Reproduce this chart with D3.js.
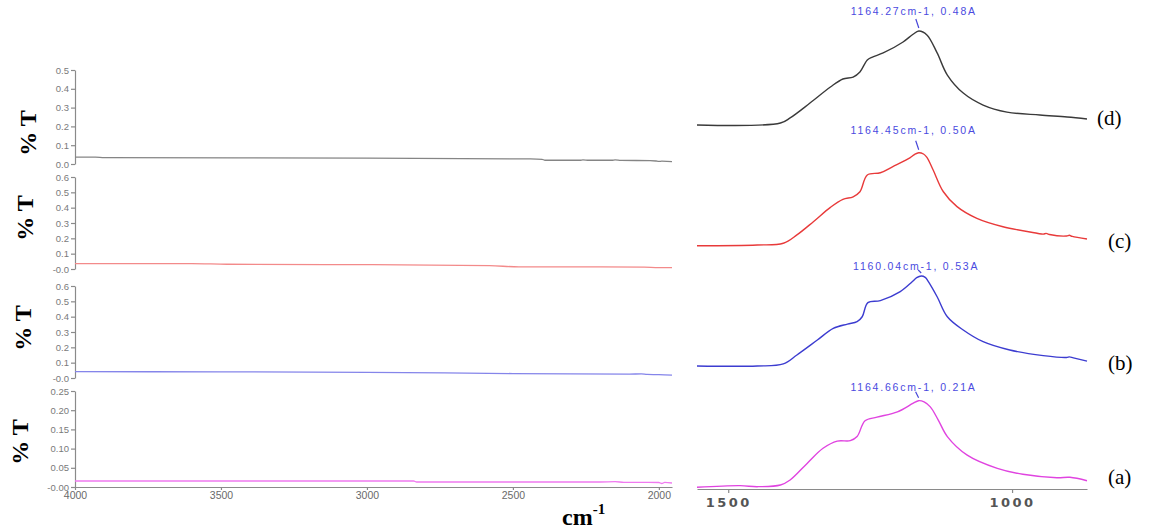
<!DOCTYPE html>
<html>
<head>
<meta charset="utf-8">
<script src="https://cdn.jsdelivr.net/npm/d3@7"></script>
<style>
  html, body { margin: 0; padding: 0; background: #fff; }
  svg { display: block; }
</style>
</head>
<body>
<svg id="chart" width="1157" height="532"></svg>
<script>
// ---- data -------------------------------------------------------------
const sampleIds = ["d", "c", "b", "a"];

// full-range survey spectra (wavenumber, %T)
const surveyD = [[4000,0.037],[3930,0.037],[3900,0.034],[3000,0.031],[2440,0.027],[2400,0.025],[2390,0.020],[2270,0.020],[2260,0.022],[2240,0.020],[2160,0.020],[2150,0.022],[2130,0.019],[2030,0.018],[2010,0.016],[2000,0.014],[1990,0.015],[1955,0.013]];
const surveyC = [[4000,0.035],[3600,0.035],[3480,0.031],[2980,0.028],[2580,0.022],[2480,0.014],[2200,0.014],[2050,0.012],[2000,0.009],[1955,0.009]];
const surveyB = [[4000,0.041],[3500,0.040],[3000,0.037],[2500,0.029],[2100,0.025],[2060,0.027],[2040,0.023],[2000,0.022],[1955,0.019]];
const surveyA = [[4000,0.0156],[2840,0.0156],[2830,0.013],[2200,0.013],[2150,0.0138],[2120,0.0122],[2000,0.0117],[1990,0.0091],[1980,0.012],[1955,0.0104]];

// fingerprint region spectra (wavenumber, absorbance)
const bandD = [[1555,0],[1408,0.010],[1391,0.036],[1356,0.112],[1320,0.194],[1298,0.235],[1280,0.245],[1268,0.271],[1255,0.332],[1246,0.347],[1227,0.368],[1192,0.424],[1175,0.462],[1164.27,0.48],[1150,0.460],[1132,0.368],[1114,0.255],[1086,0.163],[1051,0.102],[1009,0.066],[951,0.051],[903,0.041],[868,0.031]];
const bandC = [[1555,0],[1449,0.004],[1403,0.013],[1379,0.058],[1350,0.129],[1320,0.206],[1298,0.249],[1280,0.263],[1268,0.290],[1255,0.380],[1232,0.392],[1210,0.425],[1180,0.472],[1172,0.490],[1164.45,0.50],[1156,0.493],[1150,0.475],[1139,0.407],[1121,0.290],[1097,0.210],[1062,0.147],[1016,0.102],[956,0.067],[945,0.062],[940,0.066],[934,0.060],[904,0.052],[899,0.056],[894,0.050],[868,0.036]];
const bandB = [[1555,0],[1449,0],[1403,0.012],[1379,0.065],[1343,0.153],[1315,0.222],[1290,0.247],[1273,0.261],[1264,0.290],[1254,0.373],[1232,0.385],[1197,0.438],[1176,0.496],[1168,0.520],[1160.04,0.53],[1153,0.522],[1148,0.500],[1132,0.408],[1114,0.290],[1086,0.212],[1051,0.143],[1004,0.094],[945,0.061],[904,0.050],[899,0.054],[892,0.048],[868,0.029]];
const bandA = [[1555,0],[1479,0.004],[1449,0.0015],[1408,0.0056],[1391,0.0177],[1361,0.058],[1333,0.0946],[1308,0.112],[1285,0.113],[1273,0.123],[1259,0.1615],[1238,0.170],[1202,0.183],[1174,0.204],[1164.66,0.21],[1155,0.207],[1144,0.195],[1130,0.163],[1114,0.123],[1079,0.078],[1026,0.046],[981,0.0315],[921,0.0233],[898,0.0243],[868,0.016]];

const peakWn = [1164.27, 1164.45, 1160.04, 1164.66];
const peakAbs = [0.48, 0.50, 0.53, 0.21];

const surveyTicks = [4000, 3500, 3000, 2500, 2000];
const bandTicks = [1500, 1000];
const pctTicks = [
  [0, 0.1, 0.2, 0.3, 0.4, 0.5],
  [0, 0.1, 0.2, 0.3, 0.4, 0.5, 0.6],
  [0, 0.1, 0.2, 0.3, 0.4, 0.5, 0.6],
  [0, 0.05, 0.10, 0.15, 0.20, 0.25]
];
const pctMax = [0.5, 0.6, 0.6, 0.25];

// ---- layout -----------------------------------------------------------
const survey = [surveyD, surveyC, surveyB, surveyA];
const bands = [bandD, bandC, bandB, bandA];
const surveyColor = ["#858585", "#f38a8a", "#8585ea", "#f07af0"];
const bandColor = ["#3a3a3a", "#e83a3a", "#3c3cd0", "#e044e0"];

const leftBox = [[164, 70], [269, 177], [378, 286], [487, 391]];   // [bottom, top] per panel
const rightBox = [[125, 31], [245.7, 152.7], [366, 276], [487.3, 400.7]];
const labelDy = [-16, -19, -6, -10];
const markTop = [-12, -12, -6, -9];
const pctLabelPos = [[28, 133], [25, 218], [23, 328], [20, 442]];
const idPos = [[1097, 125], [1108, 248], [1108, 370], [1108, 484]];

const svg = d3.select("#chart");
svg.append("rect").attr("width", 1157).attr("height", 532).attr("fill", "#fff");

const xL = d3.scaleLinear().domain([4000, 1955]).range([75, 672]);
const xR = d3.scaleLinear().domain([1555, 868]).range([697, 1087]);

const axisGrey = "#8a8a8a";

function styleAxis(g, fontSize, fill, weight) {
  g.selectAll("path, line").attr("stroke", axisGrey).attr("stroke-width", 1.2);
  g.selectAll("text")
    .attr("fill", fill)
    .style("font-family", "Arial, 'Liberation Sans', sans-serif")
    .style("font-size", fontSize + "px")
    .style("font-weight", weight || "normal");
}

// ---- left: survey spectra ---------------------------------------------
sampleIds.forEach((id, i) => {
  const y = d3.scaleLinear().domain([0, pctMax[i]]).range(leftBox[i]);
  const fmt = i === 0 ? d3.format(".1f")
    : i === 3 ? (d => d === 0 ? "-0.00" : d3.format(".2f")(d))
    : (d => d === 0 ? "-0.0" : d3.format(".1f")(d));
  const gy = svg.append("g").attr("transform", "translate(75,0)")
    .call(d3.axisLeft(y).tickValues(pctTicks[i]).tickFormat(fmt)
      .tickSize(4).tickSizeOuter(0).tickPadding(2));
  styleAxis(gy, 9.5, "#7a7a7a");

  const line = d3.line().x(d => xL(d[0])).y(d => y(d[1])).curve(d3.curveMonotoneX);
  svg.append("path").datum(survey[i]).attr("d", line)
    .attr("fill", "none").attr("stroke", surveyColor[i]).attr("stroke-width", 1.3);

  const [px, py] = pctLabelPos[i];
  svg.append("text")
    .attr("transform", `translate(${px},${py}) rotate(-90)`)
    .attr("text-anchor", "middle").attr("dominant-baseline", "central")
    .style("font-family", "'Liberation Serif', 'Times New Roman', serif")
    .style("font-weight", "bold").style("font-size", "24px")
    .text("% T");
});

const gxL = svg.append("g").attr("transform", "translate(0,487)")
  .call(d3.axisBottom(xL).tickValues(surveyTicks).tickFormat(d3.format("d"))
    .tickSize(3).tickSizeOuter(0).tickPadding(2));
styleAxis(gxL, 10.5, "#6a6a6a");

const unit = svg.append("text").attr("x", 562).attr("y", 525)
  .style("font-family", "'Liberation Serif', 'Times New Roman', serif")
  .style("font-weight", "bold").style("font-size", "24px");
unit.append("tspan").text("cm");
unit.append("tspan").attr("dy", -11).style("font-size", "15px").text("-1");

// ---- right: fingerprint region ----------------------------------------
sampleIds.forEach((id, i) => {
  const y = d3.scaleLinear().domain([0, peakAbs[i]]).range(rightBox[i]);
  const line = d3.line().x(d => xR(d[0])).y(d => y(d[1])).curve(d3.curveCatmullRom.alpha(0.5));
  svg.append("path").datum(bands[i]).attr("d", line)
    .attr("fill", "none").attr("stroke", bandColor[i]).attr("stroke-width", 1.4);

  const px = xR(peakWn[i]), py = y(peakAbs[i]);
  svg.append("line")
    .attr("x1", px - 3).attr("y1", py + markTop[i])
    .attr("x2", px).attr("y2", py - 3)
    .attr("stroke", "#4545d8").attr("stroke-width", 1.2);
  svg.append("text")
    .attr("x", px - 5).attr("y", py + labelDy[i])
    .attr("text-anchor", "middle")
    .attr("fill", "#4a4ae0")
    .style("font-family", "Arial, 'Liberation Sans', sans-serif")
    .style("font-size", "10.5px").style("letter-spacing", "1.8px")
    .text(`${peakWn[i].toFixed(2)}cm-1, ${peakAbs[i].toFixed(2)}A`);

  svg.append("text").attr("x", idPos[i][0]).attr("y", idPos[i][1])
    .style("font-family", "'Liberation Serif', 'Times New Roman', serif")
    .style("font-size", "21px")
    .text(`(${id})`);
});

const gxR = svg.append("g").attr("transform", "translate(0,489)")
  .call(d3.axisBottom(xR).tickValues(bandTicks).tickFormat(d3.format("d"))
    .tickSize(4).tickSizeOuter(0).tickPadding(5));
styleAxis(gxR, 13, "#555", "bold");
gxR.selectAll("text").style("letter-spacing", "2.5px")
  .style("font-family", "'DejaVu Sans', Verdana, sans-serif");
</script>
</body>
</html>
